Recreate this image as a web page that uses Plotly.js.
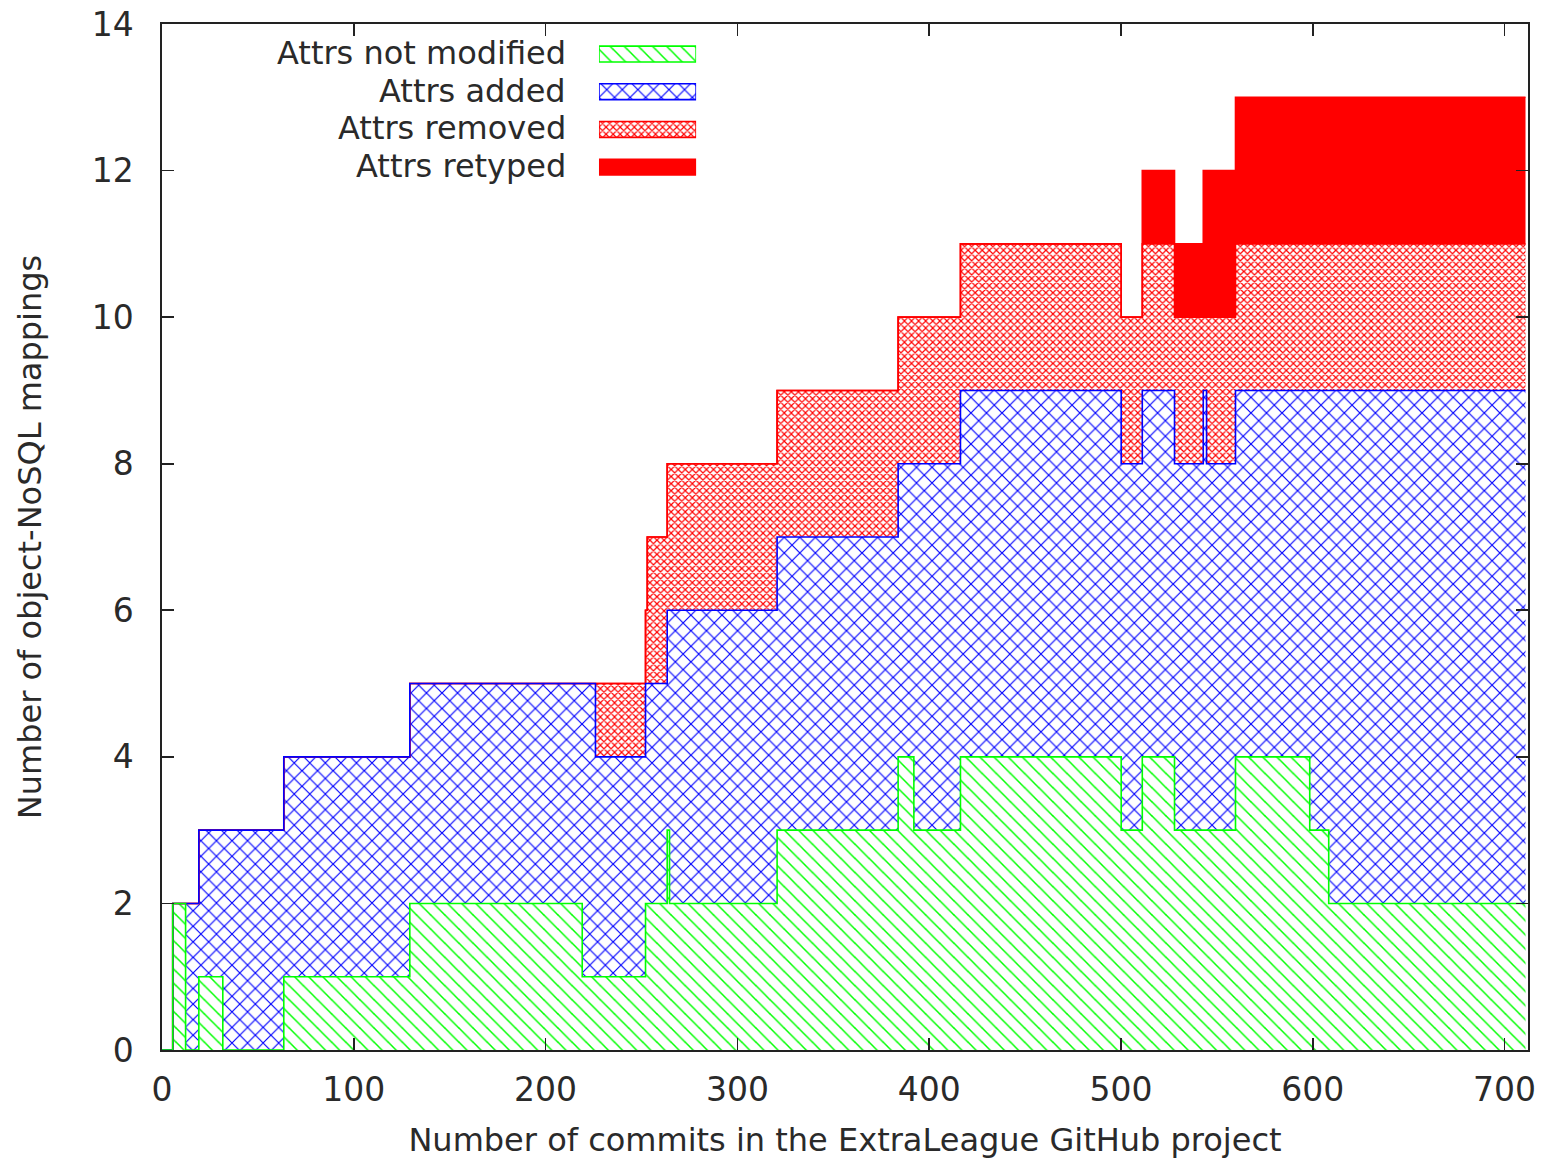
<!DOCTYPE html>
<html>
<head>
<meta charset="utf-8">
<script src="https://cdn.plot.ly/plotly-3.0.1.min.js"></script>
<style>html,body{margin:0;padding:0;background:#fff;}#chart{width:1542px;height:1159px;}</style>
</head>
<body>
<div id="chart"></div>
<script>
// Step start positions (commit number) and values of each series from that commit on
const commits     = [0, 5.6, 12.3, 19.2, 31.7, 63.5, 129.2, 219.1, 226, 252.1, 253, 263.4, 264.6, 320.7, 383.8, 392, 416.3, 500.1, 511.1, 527.9, 542.9, 544.6, 559.7, 598.4, 608.3, 710.9];
const notModified = [0, 2, 0, 1, 0, 1, 2, 1, 1, 2, 2, 3, 2, 3, 4, 3, 4, 3, 4, 3, 3, 3, 4, 3, 2, 2];
const added       = [0, 0, 2, 2, 3, 3, 3, 4, 3, 3, 3, 3, 4, 4, 4, 5, 5, 5, 5, 5, 6, 5, 5, 6, 7, 7];
const removed     = [0, 0, 0, 0, 0, 0, 0, 0, 1, 1, 2, 2, 2, 2, 2, 2, 2, 2, 2, 2, 1, 2, 2, 2, 2, 2];
const retyped     = [0, 0, 0, 0, 0, 0, 0, 0, 0, 0, 0, 0, 0, 0, 0, 0, 0, 0, 1, 1, 2, 2, 2, 2, 2, 2];
const seriesNames = ["Attrs not modified", "Attrs added", "Attrs removed", "Attrs retyped"];
const xTitle = "Number of commits in the ExtraLeague GitHub project";
const yTitle = "Number of object-NoSQL mappings";

const colors = ["#00ff00", "#0000ff", "#ff0000", "#ff0000"];
const patterns = [
  {shape: "\\", fgcolor: "#00ff00", bgcolor: "#ffffff", size: 10, solidity: 0.15},
  {shape: "x", fgcolor: "#0000ff", bgcolor: "#ffffff", size: 11, solidity: 0.2},
  {shape: "x", fgcolor: "#ff0000", bgcolor: "#ffffff", size: 5, solidity: 0.42},
  null
];

const series = [notModified, added, removed, retyped];
const cum = [];
let run = commits.map(() => 0);
series.forEach(s => { run = run.map((v, i) => v + s[i]); cum.push(run.slice()); });

const traces = [];
// fills
cum.forEach((yv, k) => {
  const t = {
    x: commits, y: yv, type: "scatter", mode: "lines",
    line: {shape: "hv", width: 0, color: colors[k]},
    fill: k === 0 ? "tozeroy" : "tonexty",
    showlegend: false, hoverinfo: "skip"
  };
  if (patterns[k]) t.fillpattern = patterns[k]; else t.fillcolor = colors[k];
  traces.push(t);
});
// outlines (lower series drawn last so they stay on top)
for (let k = cum.length - 1; k >= 0; k--) {
  traces.push({
    x: commits, y: cum[k], type: "scatter", mode: "lines",
    line: {shape: "hv", width: 1.6, color: colors[k]},
    showlegend: false, hoverinfo: "skip"
  });
}
// legend keys on an auxiliary axis
seriesNames.forEach((name, i) => {
  const yc = -i - 0.5, h = 0.21;
  const t = {
    x: [0, 1, 1, 0, 0], y: [yc - h, yc - h, yc + h, yc + h, yc - h],
    xaxis: "x2", yaxis: "y2", type: "scatter", mode: "lines",
    fill: "toself", line: {color: colors[i], width: 1.6},
    showlegend: false, hoverinfo: "skip"
  };
  if (patterns[i]) t.fillpattern = patterns[i]; else t.fillcolor = colors[i];
  traces.push(t);
});

const font = {family: "DejaVu Sans, sans-serif", size: 32, color: "#2a2a2a"};
const tickFont = {family: "DejaVu Sans, sans-serif", size: 33, color: "#2a2a2a"};
const axisCommon = {
  showline: true, linecolor: "#222", linewidth: 1.6, mirror: "ticks",
  ticks: "inside", ticklen: 12, tickwidth: 1.6, tickcolor: "#222",
  showgrid: false, zeroline: false, tickfont: tickFont
};

const layout = {
  width: 1542, height: 1159,
  margin: {l: 162, r: 14, t: 24, b: 109},
  paper_bgcolor: "#ffffff", plot_bgcolor: "#ffffff",
  font: font,
  showlegend: false,
  xaxis: Object.assign({}, axisCommon, {
    range: [0, 712.2], tick0: 0, dtick: 100, ticklabelstandoff: 10,
    title: {text: xTitle, font: font, standoff: 24}
  }),
  yaxis: Object.assign({}, axisCommon, {
    range: [0, 14], tick0: 0, dtick: 2, ticklabelstandoff: 20,
    title: {text: yTitle, font: font, standoff: 40}
  }),
  xaxis2: {domain: [0.3199, 0.391], range: [0, 1], visible: false, anchor: "y2", fixedrange: true},
  yaxis2: {domain: [0.8421, 0.9891], range: [-4, 0], visible: false, anchor: "x2", fixedrange: true},
  annotations: seriesNames.map((name, i) => ({
    text: name, xref: "paper", x: 0.2972, xanchor: "right",
    yref: "y2", y: -i - 0.47, yanchor: "middle", showarrow: false, font: font
  }))
};

Plotly.newPlot("chart", traces, layout, {displayModeBar: false, staticPlot: true});
</script>
</body>
</html>
